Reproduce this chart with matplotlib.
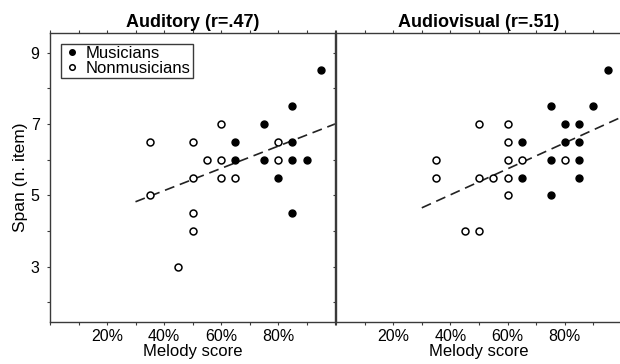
import matplotlib
matplotlib.use("Agg")
import matplotlib.pyplot as plt
import numpy as np

plt.rcParams['font.family'] = ['Liberation Sans', 'DejaVu Sans']

# ---- Data ----
aud_mus_x = [65, 65, 75, 75, 80, 85, 85, 85, 85, 90, 95]
aud_mus_y = [6.5, 6.0, 7.0, 6.0, 5.5, 7.5, 6.5, 6.0, 4.5, 6.0, 8.5]
aud_non_x = [35, 35, 45, 50, 50, 50, 50, 55, 60, 60, 60, 65, 80, 80]
aud_non_y = [6.5, 5.0, 3.0, 6.5, 5.5, 4.5, 4.0, 6.0, 7.0, 6.0, 5.5, 5.5, 6.5, 6.0]
aud_fit_x = [30, 100]
aud_fit_y = [4.82, 7.0]

av_mus_x = [65, 65, 75, 75, 75, 80, 80, 85, 85, 85, 85, 90, 95]
av_mus_y = [6.5, 5.5, 7.5, 6.0, 5.0, 7.0, 6.5, 7.0, 6.5, 6.0, 5.5, 7.5, 8.5]
av_non_x = [35, 35, 45, 50, 50, 50, 55, 60, 60, 60, 60, 60, 65, 80]
av_non_y = [6.0, 5.5, 4.0, 4.0, 7.0, 5.5, 5.5, 7.0, 6.5, 6.0, 5.5, 5.0, 6.0, 6.0]
av_fit_x = [30, 100]
av_fit_y = [4.65, 7.2]

titles = ["Auditory (r=.47)", "Audiovisual (r=.51)"]
xtick_major = [20, 40, 60, 80]
xtick_labels = ["20%", "40%", "60%", "80%"]
ytick_major = [3, 5, 7, 9]
series_labels = ["Musicians", "Nonmusicians"]

W, H = 620, 364
fig = plt.figure(figsize=(W / 100, H / 100), dpi=100)

spine_col = "#3a3a3a"
ax1 = fig.add_axes([50 / W, 42 / H, 285 / W, 289 / H])
ax2 = fig.add_axes([336 / W, 42 / H, 286 / W, 289 / H])

panels = [
    (ax1, aud_mus_x, aud_mus_y, aud_non_x, aud_non_y, aud_fit_x, aud_fit_y),
    (ax2, av_mus_x, av_mus_y, av_non_x, av_non_y, av_fit_x, av_fit_y),
]

for i, (ax, mx, my, nx, ny, fx, fy) in enumerate(panels):
    ax.plot(fx, fy, color="#222222", lw=1.2, dashes=(6, 3.5), zorder=2)
    ax.plot(mx, my, 'o', ms=5, mfc='black', mec='black', mew=1.0,
            ls='none', label=series_labels[0], zorder=3)
    ax.plot(nx, ny, 'o', ms=5, mfc='white', mec='black', mew=1.1,
            ls='none', label=series_labels[1], zorder=3)
    ax.set_xlim(0, 100)
    ax.set_ylim(1.45, 9.55)
    ax.set_xticks(np.arange(0, 101, 10), minor=True)
    ax.set_xticks(xtick_major)
    ax.set_xticklabels(xtick_labels)
    ax.set_yticks(np.arange(2, 10, 1), minor=True)
    ax.set_yticks(ytick_major)
    ax.tick_params(axis='both', which='both', direction='out', length=2.5,
                   width=0.8, color=spine_col, labelsize=11.5,
                   top=True, right=False, labeltop=False)
    ax.tick_params(axis='x', which='both', pad=2.5)
    ax.tick_params(axis='y', which='both', pad=5)
    for s in ax.spines.values():
        s.set_color(spine_col)
        s.set_linewidth(1.0)
    ax.set_title(titles[i], fontsize=13, fontweight='bold', pad=4)
    ax.set_xlabel("Melody score", fontsize=12, labelpad=0)
    if i == 0:
        ax.set_ylabel("Span (n. item)", fontsize=12.5, labelpad=2)
        leg = ax.legend(loc='upper left', bbox_to_anchor=(0.02, 0.98),
                        fancybox=False, edgecolor=spine_col, framealpha=1,
                        fontsize=12, handlelength=1.1, handletextpad=0.3,
                        borderpad=0.12, labelspacing=0.0, borderaxespad=0.3,
                        markerscale=0.8)
        leg.get_frame().set_linewidth(1.0)
    else:
        ax.tick_params(axis='y', labelleft=False)

fig.savefig("out.png", dpi=100)
